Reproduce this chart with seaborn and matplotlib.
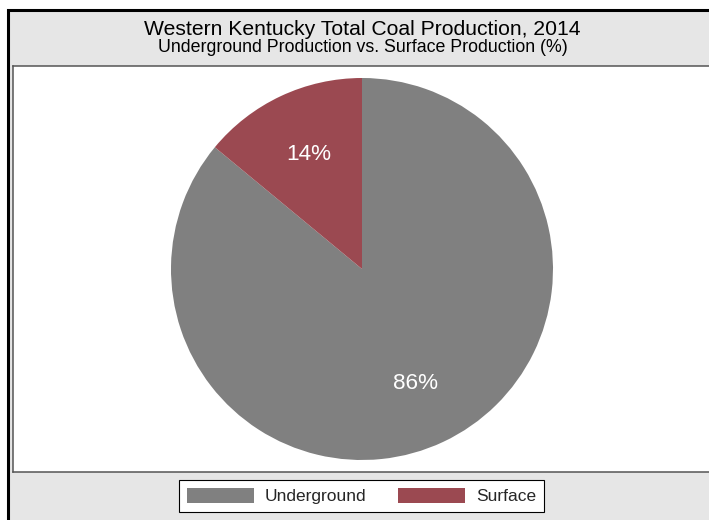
import matplotlib
matplotlib.use("Agg")
import matplotlib.pyplot as plt
from matplotlib.patches import Rectangle
import seaborn as sns

# Chart text and data
title = "Western Kentucky Total Coal Production, 2014"
subtitle = "Underground Production vs. Surface Production (%)"
categories = ["Underground", "Surface"]
shares = [86, 14]
colors = ["#808080", "#9b4951"]

sns.set_theme(style="white")
plt.rcParams["font.family"] = ["Liberation Sans", "DejaVu Sans"]
palette = sns.color_palette(colors)

W, H = 709, 520
fig = plt.figure(figsize=(W / 100, H / 100), dpi=100, facecolor="white")


def fx(px):
    return px / W


def fy(py):
    return 1 - py / H


# gray panel with a black frame behind everything
fig.add_artist(Rectangle((fx(8), -0.1), 1.2, fy(10) + 0.1,
                         transform=fig.transFigure, facecolor="#e6e6e6",
                         edgecolor="black", linewidth=2.2, zorder=0))

# white plot area
ax = fig.add_axes([fx(13), fy(472), fx(711) - fx(13), fy(66) - fy(472)])
ax.set_facecolor("white")

wedges, texts, autotexts = ax.pie(
    shares, colors=palette, startangle=90, counterclock=False,
    autopct=lambda p: f"{p:.0f}%", pctdistance=0.66,
    textprops=dict(color="white", fontsize=16.2),
    wedgeprops=dict(linewidth=0), frame=True,
)

radius_px = 191
ax_w_px = 711 - 13
ax_h_px = 472 - 66
ax.set_aspect("auto")
ax.set_xlim(-ax_w_px / 2 / radius_px, ax_w_px / 2 / radius_px)
ax.set_ylim(-ax_h_px / 2 / radius_px, ax_h_px / 2 / radius_px)
ax.set_xticks([])
ax.set_yticks([])
for sp in ax.spines.values():
    sp.set_visible(True)
    sp.set_color("#555555")
    sp.set_linewidth(1.1)

fig.text(fx(362), fy(35), title, ha="center", va="baseline",
         fontsize=15.2, color="black")
fig.text(fx(362.5), fy(52), subtitle, ha="center", va="baseline",
         fontsize=12.8, color="black")

leg = fig.legend(wedges, categories, loc="center",
                 bbox_to_anchor=(fx(361.5), fy(496)), ncol=2,
                 fontsize=12.5, frameon=True, fancybox=False,
                 handlelength=3.86, handleheight=0.98, handletextpad=0.63,
                 columnspacing=1.84, borderpad=0.45, borderaxespad=0)
leg.get_frame().set_edgecolor("black")
leg.get_frame().set_linewidth(0.8)
leg.get_frame().set_facecolor("white")
leg.get_frame().set_alpha(1)

fig.savefig("out.png", dpi=100, facecolor=fig.get_facecolor())
